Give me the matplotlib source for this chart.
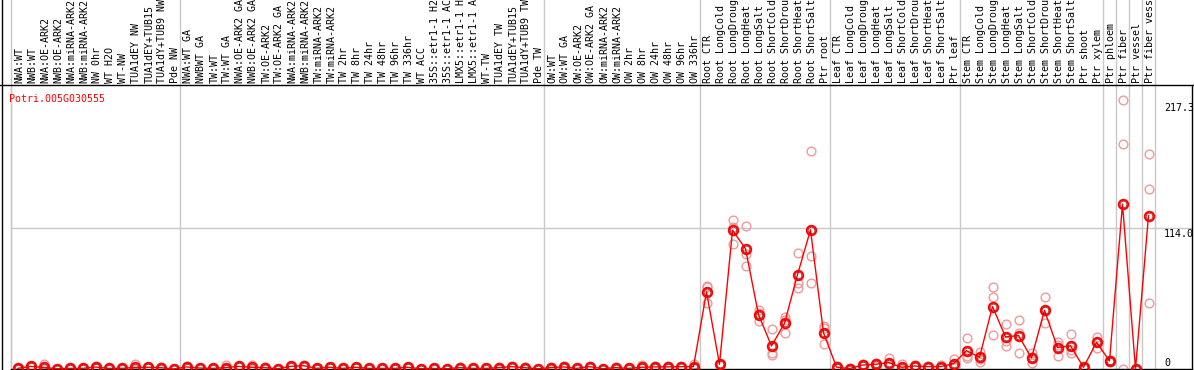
import numpy as np
import matplotlib
matplotlib.use("Agg")
import matplotlib.pyplot as plt
from matplotlib.transforms import blended_transform_factory

# ---------------- data ----------------
labels = [
    "NWA:WT", "NWB:WT", "NWA:OE-ARK2", "NWB:OE-ARK2", "NWA:miRNA-ARK2", "NWB:miRNA-ARK2",
    "NW 0hr", "WT H2O", "WT-NW", "TUA1dEY NW", "TUA1dEY+TUB15", "TUA1dY+TUB9 NW", "Pde NW",
    "NWA:WT GA", "NWBWT GA", "TW:WT", "TW:WT GA", "NWA:OE-ARK2 GA", "NWB:OE-ARK2 GA",
    "TW:OE-ARK2", "TW:OE-ARK2 GA", "NWA:miRNA-ARK2", "NWB:miRNA-ARK2", "TW:miRNA-ARK2",
    "TW:miRNA-ARK2", "TW 2hr", "TW 8hr", "TW 24hr", "TW 48hr", "TW 96hr", "TW 336hr",
    "WT ACC", "35S::etr1-1 H2", "35S::etr1-1 AC", "LMX5::etr1-1 H", "LMX5::etr1-1 A",
    "WT-TW", "TUA1dEY TW", "TUA1dEY+TUB15", "TUA1dY+TUB9 TW", "Pde TW",
    "OW:WT", "OW:WT GA", "OW:OE-ARK2", "OW:OE-ARK2 GA", "OW:miRNA-ARK2", "OW:miRNA-ARK2",
    "OW 2hr", "OW 8hr", "OW 24hr", "OW 48hr", "OW 96hr", "OW 336hr",
    "Root CTR", "Root LongCold", "Root LongDroug", "Root LongHeat", "Root LongSalt",
    "Root ShortCold", "Root ShortDrou", "Root ShortHeat", "Root ShortSalt", "Ptr root",
    "Leaf CTR", "Leaf LongCold", "Leaf LongDroug", "Leaf LongHeat", "Leaf LongSalt",
    "Leaf ShortCold", "Leaf ShortDrou", "Leaf ShortHeat", "Leaf ShortSalt", "Ptr leaf",
    "Stem CTR", "Stem LongCold", "Stem LongDroug", "Stem LongHeat", "Stem LongSalt",
    "Stem ShortCold", "Stem ShortDrou", "Stem ShortHeat", "Stem ShortSalt", "Ptr shoot",
    "Ptr xylem", "Ptr phloem", "Ptr fiber", "Ptr vessel", "Ptr fiber vess",
]

# replicate expression values (three per sample)
replicates = [
    [0.3, 0.5, 0.7], [1.6, 2.1, 2.6], [3.8, 0.0, 0.0], [0.1, 0.2, 0.3], [0.3, 0.5, 0.7],
    [0.3, 0.5, 0.7], [1.0, 1.6, 2.2], [0.3, 0.5, 0.7], [0.3, 0.5, 0.7], [3.8, 0.0, 0.0],
    [1.0, 1.4, 1.8], [0.8, 1.1, 1.4], [0.0, 0.0, 0.0],
    [1.2, 1.7, 2.2], [0.5, 0.8, 1.1], [0.3, 0.5, 0.7], [3.3, 0.0, 0.0], [1.6, 2.1, 2.6],
    [3.6, 0.3, 0.3], [0.8, 1.1, 1.4], [0.1, 0.2, 0.3], [1.6, 2.1, 2.6], [2.2, 2.7, 3.2],
    [0.3, 0.5, 0.7], [1.0, 1.4, 1.8], [0.3, 0.5, 0.7], [1.0, 1.4, 1.8], [0.3, 0.5, 0.7],
    [0.3, 0.5, 0.7], [0.3, 0.5, 0.7], [1.0, 1.4, 1.8], [0.1, 0.2, 0.3], [0.3, 0.5, 0.7],
    [0.1, 0.2, 0.3], [0.8, 1.1, 1.4], [0.3, 0.5, 0.7], [0.3, 0.5, 0.7], [0.8, 1.1, 1.4],
    [1.5, 1.9, 2.3], [0.8, 1.1, 1.4], [0.1, 0.2, 0.3],
    [0.8, 1.1, 1.4], [1.2, 1.7, 2.2], [0.3, 0.5, 0.7], [1.5, 1.9, 2.3], [0.1, 0.2, 0.3],
    [0.8, 1.1, 1.4], [0.3, 0.5, 0.7], [3.2, 0.5, 0.5], [1.2, 1.7, 2.2], [1.2, 1.7, 2.2],
    [1.5, 1.9, 2.3], [3.8, 1.0, 0.9],
    [66.9, 65.9, 53.5], [3.5, 3.8, 4.1], [120.2, 114.8, 100.8], [115.3, 92.5, 83.1],
    [47.6, 45.4, 38.5], [32.0, 12.7, 11.0], [42.2, 39.5, 28.8], [93.3, 69.6, 65.1],
    [175.8, 91.1, 69.6], [34.7, 32.8, 20.2],
    [0.8, 1.5, 2.2], [0.1, 0.3, 0.5], [2.5, 3.2, 3.9], [5.1, 2.4, 3.9], [8.6, 4.0, 3.0],
    [4.0, 0.0, 0.2], [1.8, 2.4, 3.0], [1.5, 1.9, 2.3], [3.2, 1.2, 1.3], [7.8, 3.0, 1.9],
    [24.8, 9.1, 10.5], [14.0, 5.9, 8.3], [65.9, 57.8, 27.4], [36.3, 22.8, 18.5],
    [39.5, 28.8, 12.7], [12.7, 4.6, 9.4], [57.8, 47.0, 37.3], [22.0, 10.5, 19.4],
    [28.2, 12.7, 15.3], [0.8, 1.4, 2.0],
    [26.0, 16.7, 21.8], [5.5, 6.5, 7.5], [217.3, 181.5, 0.0], [0.0, 0.0, 0.0],
    [173.1, 145.2, 53.0],
]

# group boundaries (number of samples before each separator)
separators = [0, 13, 41, 53, 63, 73, 84, 85, 86, 87, 88]
ytick_values = [217.3, 114.0, 0]
gene_id = "Potri.005G030555"

# ---------------- figure ----------------
W, H = 1194, 370
fig = plt.figure(figsize=(W / 100, H / 100), dpi=100)


def fx(px):
    return px / W


def fy(py):
    return 1 - py / H


ax = fig.add_axes([fx(11), fy(369), fx(1192) - fx(11), fy(85) - fy(369)])
n = len(labels)
x = np.arange(n)
reps = np.array(replicates)
means = reps.mean(axis=1)

ax.set_xlim(-0.5, (1192 - 17.5) / 13)
ax.set_ylim(0, 229)
ax.set_xticks([])
ax.set_yticks([])
ax.spines["top"].set_visible(False)
ax.spines["left"].set_color("#c8c8c8")
ax.spines["right"].set_color("black")
ax.spines["bottom"].set_color("black")
for s in ax.spines.values():
    s.set_linewidth(1)

ax.axhline(114.0, color="#c8c8c8", lw=1, zorder=0)

blend = blended_transform_factory(ax.transData, fig.transFigure)
for k in separators:
    ax.plot([k - 0.5, k - 0.5], [0, 1], transform=blend, color="#c8c8c8",
            lw=1, clip_on=False, zorder=0)

# figure frame lines
fig.add_artist(plt.Line2D([0, 1], [fy(85), fy(85)], transform=fig.transFigure,
                          color="black", lw=1))
fig.add_artist(plt.Line2D([fx(1.5), fx(1.5)], [0, 1], transform=fig.transFigure,
                          color="black", lw=1))

# replicate points
for j in range(reps.shape[1]):
    ax.plot(x, reps[:, j], linestyle="none", marker="o", mfc="none",
            mec="#ee9a9a", ms=6.3, mew=1.0, clip_on=False, zorder=2)

# mean line
ax.plot(x, means, color="red", lw=1, marker="o", mfc="none", mec="red",
        ms=6.8, mew=1.4, clip_on=False, zorder=3)
ax.plot(x, means, linestyle="none", marker="o", mfc="none", mec="#a00000",
        ms=4.8, mew=0.5, clip_on=False, zorder=4)

mono = "DejaVu Sans Mono"
fs = 7.2
for i, lab in enumerate(labels):
    ax.text(i + 0.15, fy(83), lab, rotation=90, ha="center", va="bottom",
            transform=blend, fontfamily=mono, fontsize=fs, color="black")

ylabel_base = {217.3: 111, 114.0: 236.7, 0: 366}
for v in ytick_values:
    txt = "0" if v == 0 else f"{v:.1f}"
    fig.text(fx(1164), fy(ylabel_base[v]), txt, ha="left", va="baseline",
             fontfamily=mono, fontsize=fs, color="black")

fig.text(fx(9.5), fy(101.7), gene_id, ha="left", va="baseline",
         fontfamily=mono, fontsize=fs, color="red")

fig.savefig("out.png", dpi=100)
